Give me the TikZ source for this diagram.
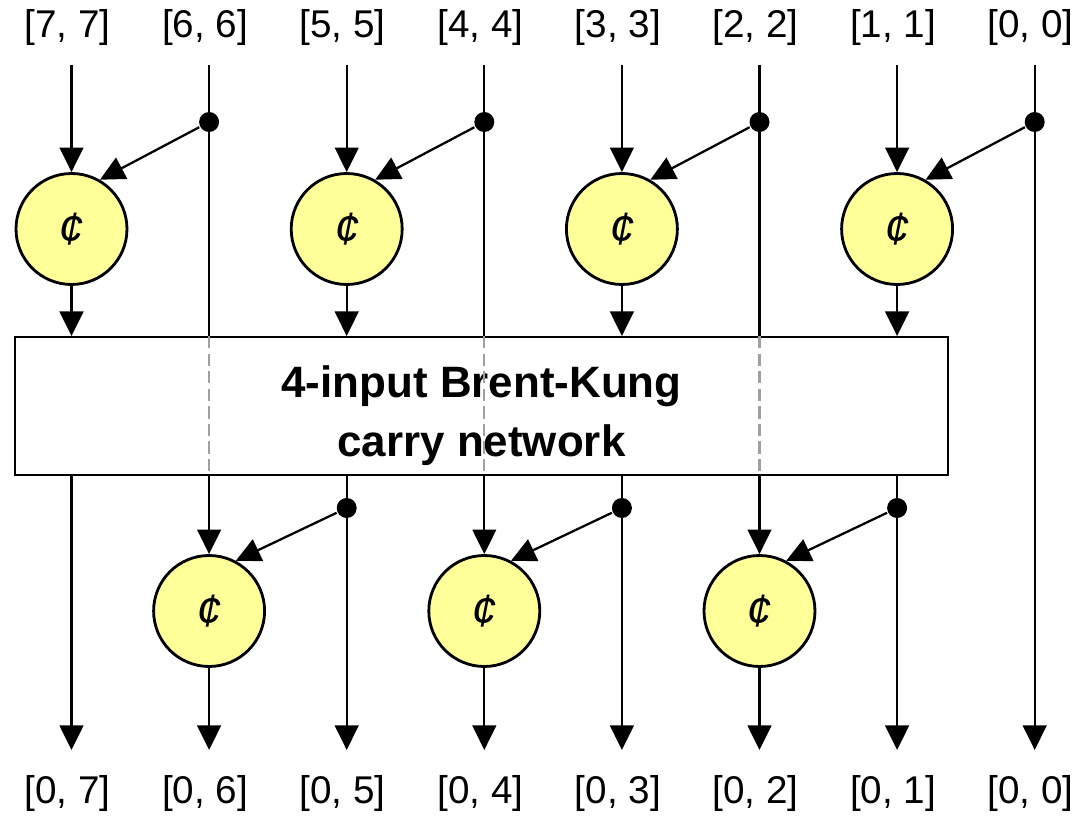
\documentclass[tikz,border=0pt]{standalone}
\usepackage{fontspec}
\setmainfont{Liberation Sans}
\usetikzlibrary{calc,math,arrows.meta}

\definecolor{cellyellow}{HTML}{FFFF99}
\definecolor{dashgray}{HTML}{A0A0A0}

\tikzset{
  lbl/.style={font=\fontsize{22}{26}\selectfont},
  cell/.style={circle,draw,line width=1.6pt,fill=cellyellow,minimum size=2.22cm,inner sep=0pt,font=\fontsize{26}{26}\itshape\selectfont},
  dot/.style={circle,fill,inner sep=0pt,minimum size=0.4cm},
  bkbox/.style={draw,line width=1.1pt,minimum width=18.66cm,minimum height=2.76cm},
  bktext/.style={align=center,font=\fontsize{25}{33.5}\bfseries\selectfont},
  dashline/.style={dashgray,dash pattern=on 7pt off 3pt}
}

\begin{document}
\begin{tikzpicture}[x=0.02cm,y=-0.02cm,line width=1.3pt,>={Triangle[length=14pt,width=13.5pt]}]
  \useasboundingbox (0,0) rectangle (1076,817);
  \node[bkbox] (bk) at (481.5,406) {};
  \node[bktext] (bktext) at ([yshift=-5.7pt]bk.center) {4-input Brent-Kung\\carry network};

  % bit columns
  \foreach \i in {0,...,7} {
    \tikzmath{
      real \x;
      \x = 71.5 + 137.6 * (7 - \i);
    }
    \node[lbl] (in\i) at (\x-4,28) {[\i, \i]};
    \node[lbl] (out\i) at (\x-4,794) {[0, \i]};
    \coordinate (top\i) at (\x,65);
    \coordinate (bot\i) at (\x,750);
  }

  % first level
  \foreach \i/\k in {7/6,5/4,3/2,1/0} {
    \tikzmath{
      real \x, \xk;
      \x = 71.5 + 137.6 * (7 - \i);
      \xk = \x + 137.6;
    }
    \node[cell] (c\i) at (\x,229) {¢};
    \node[dot] (d\k) at (\xk,122) {};
    \draw[->] (top\i) -- (c\i);
    \draw[->] (d\k) -- (c\i.60);
    \draw[->] (c\i) -- (c\i |- bk.north);
  }

  % second level
  \foreach \i/\k in {6/5,4/3,2/1} {
    \tikzmath{
      real \x, \xk;
      \x = 71.5 + 137.6 * (7 - \i);
      \xk = \x + 137.6;
    }
    \node[cell] (e\i) at (\x,611) {¢};
    \node[dot] (f\k) at (\xk,508) {};
    \draw (top\i) -- (top\i |- bk.north);
    \draw[dashline] (top\i |- bk.north) -- (top\i |- bk.south);
    \draw[->] (top\i |- bk.south) -- (e\i);
    \draw[->] (f\k) -- (e\i.62);
    \draw[->] (e\i) -- (bot\i);
    \draw[->] (top\k |- bk.south) -- (bot\k);
  }
  \draw[->] (c7 |- bk.south) -- (bot7);
  \draw[->] (top0) -- (bot0);
\end{tikzpicture}
\end{document}
